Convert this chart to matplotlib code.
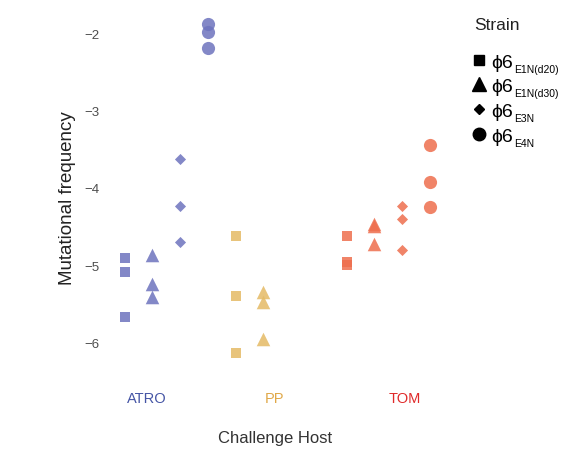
import matplotlib
matplotlib.use("Agg")
import matplotlib.pyplot as plt
from matplotlib.lines import Line2D

plt.rcParams['font.family'] = ['Liberation Sans', 'DejaVu Sans']

hosts = ["ATRO", "PP", "TOM"]
strains = ["E1N(d20)", "E1N(d30)", "E3N", "E4N"]
markers = ["s", "^", "D", "o"]
marker_sizes = [62, 95, 32, 90]

# values[host][strain] -> list of log10 mutational frequencies
atro_vals = {
    "E1N(d20)": [-4.91, -5.09, -5.67],
    "E1N(d30)": [-4.87, -5.24, -5.41],
    "E3N": [-3.62, -4.24, -4.70],
    "E4N": [-1.88, -1.98, -2.185],
}
pp_vals = {
    "E1N(d20)": [-4.62, -5.40, -6.14],
    "E1N(d30)": [-5.35, -5.48, -5.96],
}
tom_vals = {
    "E1N(d20)": [-4.62, -4.96, -5.00],
    "E1N(d30)": [-4.47, -4.50, -4.73],
    "E3N": [-4.24, -4.40, -4.80],
    "E4N": [-3.45, -3.93, -4.25],
}
values = {"ATRO": atro_vals, "PP": pp_vals, "TOM": tom_vals}

point_colors = {"ATRO": "#6d73be", "PP": "#e4ba65", "TOM": "#ee6e4e"}
label_colors = {"ATRO": "#4555a5", "PP": "#e0a848", "TOM": "#e02a2a"}
label_pos = [0.8, 5.38, 10.1]

W, H = 582, 460
fig = plt.figure(figsize=(W / 100, H / 100), dpi=100)
ax = fig.add_axes([0.180, 0.170, 0.585, 0.797])

for hi, h in enumerate(hosts):
    for si, s in enumerate(strains):
        if s not in values[h]:
            continue
        ys = values[h][s]
        xs = [4 * hi + si] * len(ys)
        ax.scatter(xs, ys, marker=markers[si], s=marker_sizes[si],
                   color=point_colors[h], alpha=0.85, linewidths=0, zorder=3)

ax.set_xlim(-0.72, 11.55)
ax.set_ylim(-6.5, -1.75)
ax.set_yticks([-6, -5, -4, -3, -2])
ax.set_yticklabels(["\u22126", "\u22125", "\u22124", "\u22123", "\u22122"])
ax.set_xticks(label_pos)
ax.set_xticklabels(hosts, fontsize=10.5)
for t, h in zip(ax.get_xticklabels(), hosts):
    t.set_color(label_colors[h])
ax.tick_params(axis='y', length=0, labelsize=9.5, labelcolor="#4d4d4d", pad=4)
ax.tick_params(axis='x', length=0, pad=7)
for sp in ax.spines.values():
    sp.set_visible(False)

ax.set_ylabel("Mutational frequency", fontsize=13.5, color="#222222", labelpad=6)
ax.set_xlabel("Challenge Host", fontsize=12, color="#333333", labelpad=18)

# manual legend (figure pixel positions)
fig.text(474 / W, 1 - 26 / H, "Strain", fontsize=12.5, color="#222222",
         ha="left", va="center")
leg_y = [61, 85, 110, 135]
leg_ms = [7.5, 10, 5.5, 9]
for s, m, ms, yp in zip(strains, markers, leg_ms, leg_y):
    fig.add_artist(Line2D([479 / W], [1 - yp / H], marker=m, markersize=ms,
                          color="black", linestyle="none",
                          transform=fig.transFigure))
    fig.text(491 / W, 1 - (yp + 7) / H, "\u03d56", fontsize=14,
             color="black", ha="left", va="baseline")
    fig.text(514 / W, 1 - (yp + 12) / H, s, fontsize=7.5,
             color="black", ha="left", va="baseline")

fig.savefig("out.png", dpi=100)
